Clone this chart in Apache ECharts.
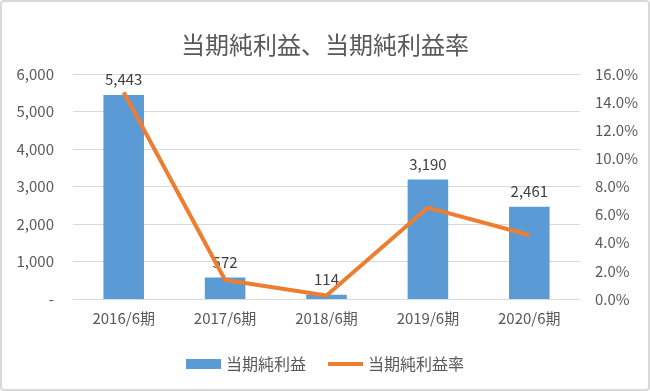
<!DOCTYPE html>
<html><head><meta charset="utf-8">
<script src="https://cdn.jsdelivr.net/npm/echarts@6/dist/echarts.min.js"></script>
<style>
html,body{margin:0;padding:0;background:#fff;}
#frame{position:absolute;left:0;top:0;width:650px;height:391px;box-sizing:border-box;border:2px solid #d9d9d9;border-radius:4px;}
#c{position:absolute;left:0;top:0;width:650px;height:391px;}
</style></head>
<body>
<div id="c"></div><div id="frame"></div>
<script>
const categories = ['2016/6期','2017/6期','2018/6期','2019/6期','2020/6期'];
const netIncome = [5443, 572, 114, 3190, 2461];
const netMargin = [14.7, 1.35, 0.25, 6.5, 4.55];
const leftTicks = {min:0, max:6000, interval:1000};
const rightTicks = {min:0, max:16, interval:2};

const font = '"Noto Sans CJK JP", "Noto Sans", sans-serif';
const chart = echarts.init(document.getElementById('c'));
chart.setOption({
  animation:false,
  textStyle:{fontFamily:font},
  title:{text:'当期純利益、当期純利益率', left:'center', top:28,
    textStyle:{fontSize:24, fontWeight:'normal', color:'#595959', fontFamily:font}},
  grid:{left:73, right:70, top:74, bottom:92},
  legend:{top:351, left:'center', itemGap:22, itemWidth:35, itemHeight:10,
    textStyle:{fontSize:16, color:'#595959', fontFamily:font},
    data:[{name:'当期純利益', icon:'rect'},{name:'当期純利益率', icon:'path://M0,0H10V1.1H0Z'}]},
  xAxis:{type:'category', data:categories,
    axisLine:{lineStyle:{color:'#d9d9d9'}}, axisTick:{show:false},
    axisLabel:{color:'#595959', fontSize:15, margin:12, fontFamily:font}},
  yAxis:[
    {type:'value', min:leftTicks.min, max:leftTicks.max, interval:leftTicks.interval,
     axisLine:{show:false}, axisTick:{show:false},
     splitLine:{lineStyle:{color:'#d9d9d9'}},
     axisLabel:{color:'#595959', fontSize:15, margin:19, fontFamily:font,
       formatter:v => v===0 ? '-' : v.toLocaleString('en-US')}},
    {type:'value', min:rightTicks.min, max:rightTicks.max, interval:rightTicks.interval,
     axisLine:{show:false}, axisTick:{show:false}, splitLine:{show:false},
     axisLabel:{color:'#595959', fontSize:15, margin:15, fontFamily:font,
       formatter:v => v.toFixed(1)+'%'}}
  ],
  series:[
    {name:'当期純利益', type:'bar', data:netIncome, barWidth:'40%',
     itemStyle:{color:'#5B9BD5'},
     label:{show:true, position:'top', color:'#404040', fontSize:15, distance:8, fontFamily:font,
       formatter:p => p.value.toLocaleString('en-US')}},
    {name:'当期純利益率', type:'line', yAxisIndex:1, data:netMargin,
     symbol:'none', lineStyle:{color:'#ED7D31', width:4}, itemStyle:{color:'#ED7D31'}}
  ]
});
</script>
</body></html>
